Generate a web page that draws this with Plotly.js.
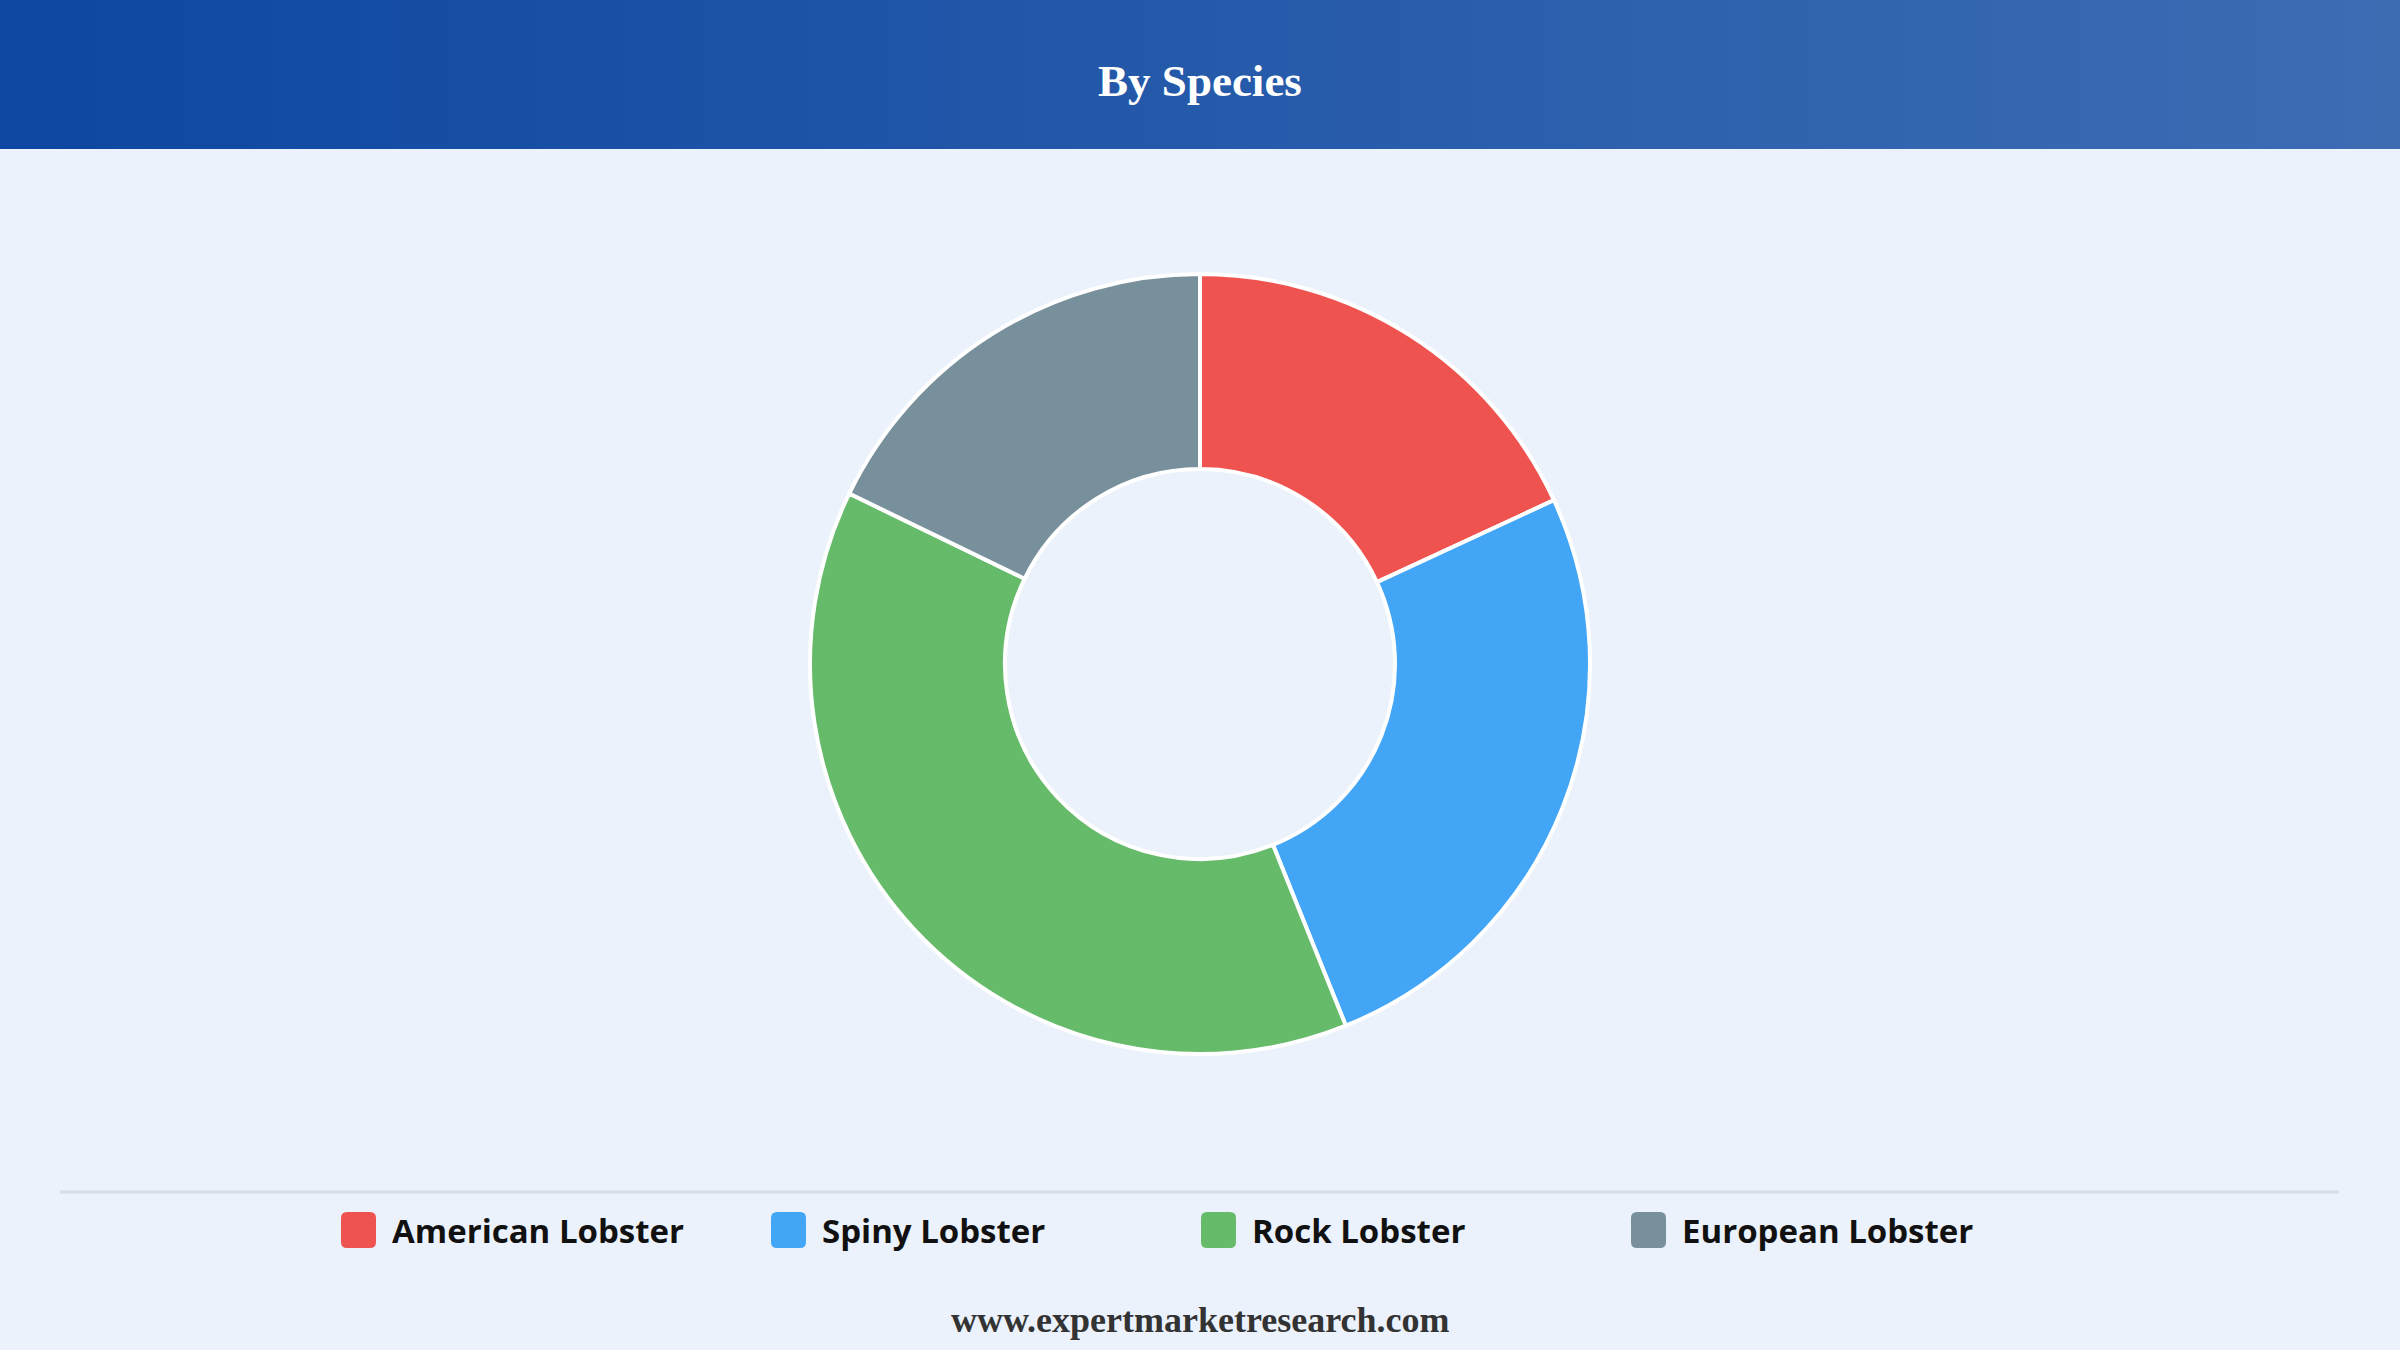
<!DOCTYPE html>
<html>
<head>
<meta charset="utf-8">
<script src="https://cdn.plot.ly/plotly-3.0.1.min.js"></script>
<style>
  html, body { margin: 0; padding: 0; background: #EBF2FC; }
  #chart { width: 2400px; height: 1350px; }
</style>
</head>
<body>
<div id="chart"></div>
<script>
// values (share %, clockwise from 12 o'clock)
var species = ['American Lobster', 'Spiny Lobster', 'Rock Lobster', 'European Lobster'];
var shares = [18.1, 25.8, 38.3, 17.8];
var sliceColors = ['#EF5350', '#42A5F5', '#66BB6A', '#78909C'];

var W = 2400, H = 1350;
function px(x) { return x / W; }
function py(y) { return 1 - y / H; }

// header gradient as an svg image
var grad = '<svg xmlns="http://www.w3.org/2000/svg" width="100" height="10" preserveAspectRatio="none">' +
    '<defs><linearGradient id="g" x1="0" x2="1" y1="0" y2="0">' +
    '<stop offset="0" stop-color="#0D47A1"/><stop offset="1" stop-color="#3D6CB3"/>' +
    '</linearGradient></defs><rect width="100" height="10" fill="url(#g)"/></svg>';

var data = [{
    type: 'pie',
    labels: species,
    values: shares,
    hole: 0.5,
    sort: false,
    direction: 'clockwise',
    rotation: 0,
    textinfo: 'none',
    hoverinfo: 'label+percent',
    showlegend: false,
    marker: {
        colors: sliceColors,
        line: { color: '#FFFFFF', width: 4 }
    },
    domain: { x: [px(810), px(1590)], y: [py(1054), py(274)] }
}];

// legend drawn by hand so the swatches can be large and rounded
var shapes = [{
    type: 'line', xref: 'paper', yref: 'paper',
    x0: px(60), x1: px(2339), y0: py(1192), y1: py(1192),
    line: { color: '#D9DDE3', width: 3 }
}];
var annotations = [{
    text: 'www.expertmarketresearch.com',
    xref: 'paper', yref: 'paper', x: 0.5, y: py(1320),
    xanchor: 'center', yanchor: 'middle', showarrow: false,
    font: { family: 'Liberation Serif, Times New Roman, serif', size: 36, color: '#333333', weight: 'bold' }
}];

function roundRect(x, y, w, h, r) {
    var rx = r / W, ry = r / H;
    var x0 = px(x), x1 = px(x + w), y0 = py(y), y1 = py(y + h);
    return 'M' + (x0 + rx) + ',' + y0 +
        ' L' + (x1 - rx) + ',' + y0 + ' Q' + x1 + ',' + y0 + ' ' + x1 + ',' + (y0 - ry) +
        ' L' + x1 + ',' + (y1 + ry) + ' Q' + x1 + ',' + y1 + ' ' + (x1 - rx) + ',' + y1 +
        ' L' + (x0 + rx) + ',' + y1 + ' Q' + x0 + ',' + y1 + ' ' + x0 + ',' + (y1 + ry) +
        ' L' + x0 + ',' + (y0 - ry) + ' Q' + x0 + ',' + y0 + ' ' + (x0 + rx) + ',' + y0 + ' Z';
}

species.forEach(function (name, i) {
    var left = 341 + i * 430;
    shapes.push({
        type: 'path', xref: 'paper', yref: 'paper',
        path: roundRect(left, 1212, 35, 36, 6),
        fillcolor: sliceColors[i], line: { width: 0 }
    });
    annotations.push({
        text: name, xref: 'paper', yref: 'paper',
        x: px(left + 49), y: py(1230), xanchor: 'left', yanchor: 'middle',
        showarrow: false,
        font: { family: 'Open Sans, sans-serif', size: 33, color: '#111111', weight: 'bold' }
    });
});

var layout = {
    width: W,
    height: H,
    margin: { l: 0, r: 0, t: 0, b: 0 },
    paper_bgcolor: '#EBF2FC',
    plot_bgcolor: '#EBF2FC',
    title: {
        text: 'By Species',
        xref: 'paper', x: 0.5, xanchor: 'center',
        yref: 'container', y: py(80), yanchor: 'middle',
        font: { family: 'Liberation Serif, Times New Roman, serif', size: 45, color: '#FFFFFF', weight: 'bold' }
    },
    images: [{
        source: 'data:image/svg+xml;charset=utf-8,' + encodeURIComponent(grad),
        xref: 'paper', yref: 'paper', x: 0, y: 1,
        sizex: 1, sizey: 149 / H, sizing: 'stretch',
        xanchor: 'left', yanchor: 'top', layer: 'below'
    }],
    shapes: shapes,
    annotations: annotations
};

Plotly.newPlot('chart', data, layout, { displayModeBar: false });
</script>
</body>
</html>
